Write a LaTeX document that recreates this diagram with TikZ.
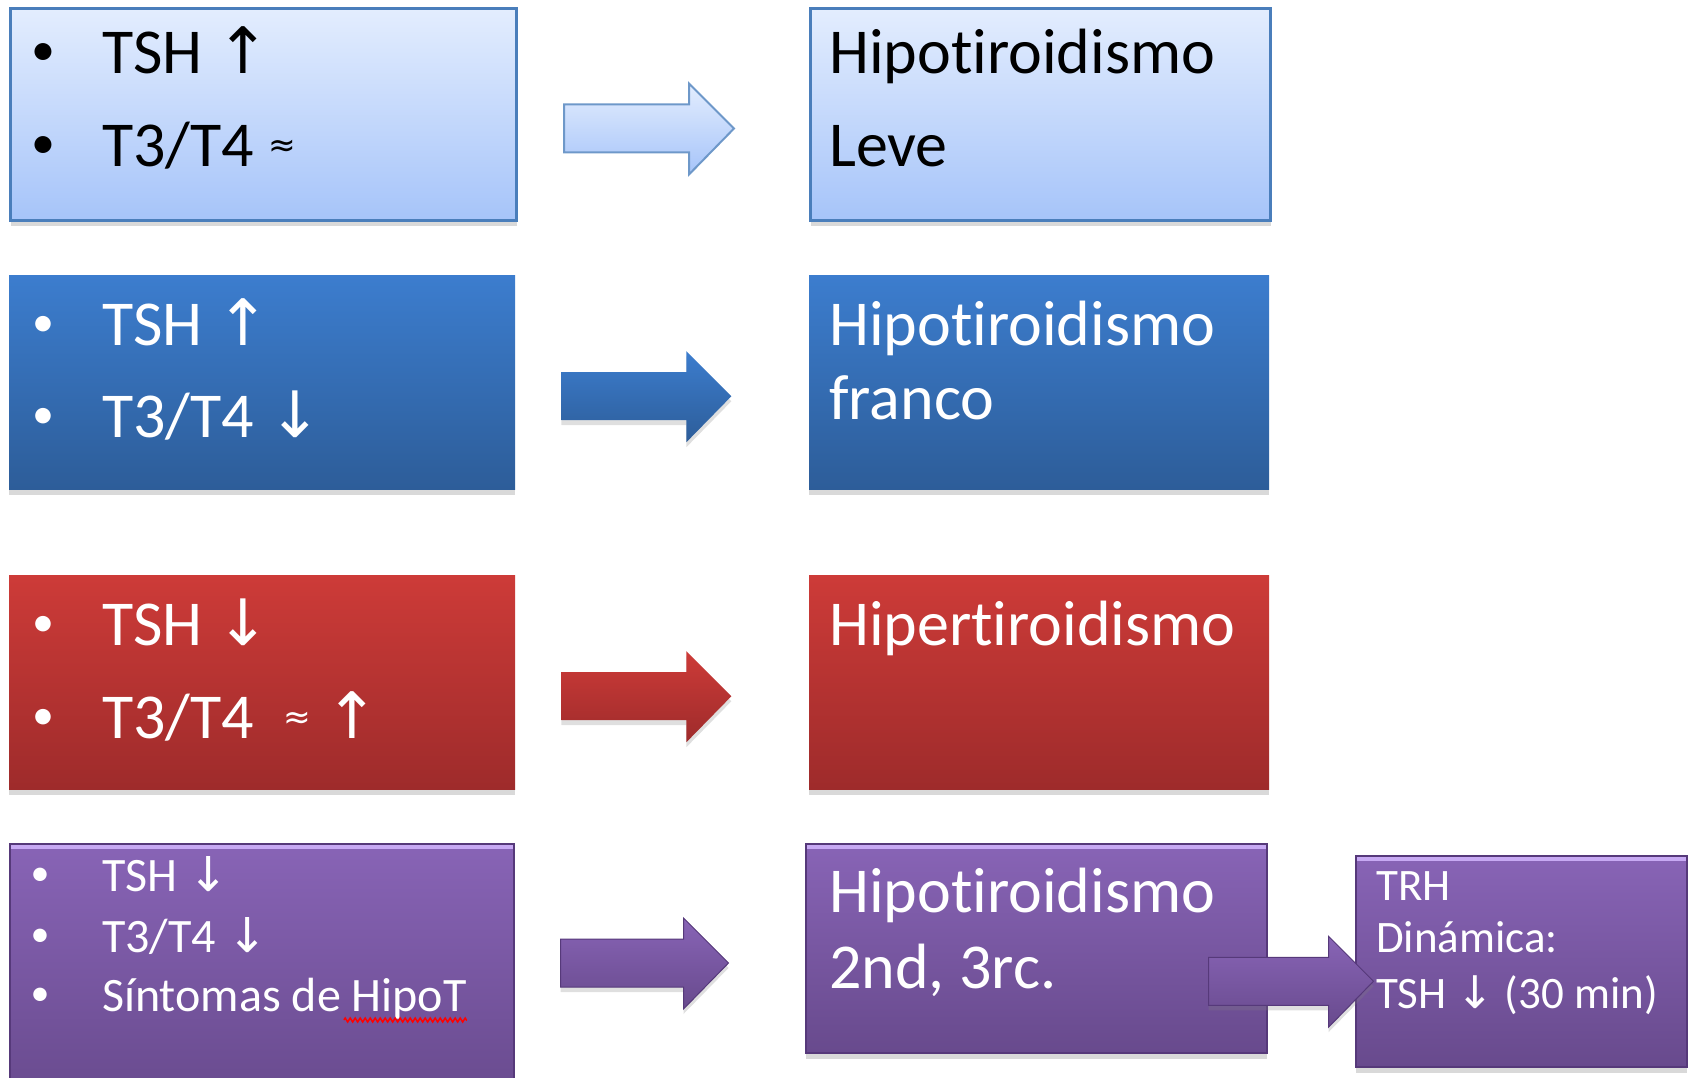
\documentclass[tikz,border=0pt]{standalone}
\usepackage{fontspec}
\setmainfont{Carlito}[Ligatures=NoCommon]
\newfontfamily\symf{DejaVu Sans}
\usetikzlibrary{calc,shadows,decorations.pathmorphing}
\definecolor{ltop}{HTML}{E3EDFE}
\definecolor{lbot}{HTML}{A6C4F9}
\definecolor{lline}{HTML}{4A7EBB}
\definecolor{btop}{HTML}{3C7DCE}
\definecolor{bbot}{HTML}{2D5D99}
\definecolor{rtop}{HTML}{CD3B38}
\definecolor{rbot}{HTML}{9E2B2B}
\definecolor{ptop}{HTML}{8864B6}
\definecolor{pbot}{HTML}{684A8D}
\definecolor{pline}{HTML}{56397A}
\definecolor{plite}{HTML}{C7A9F3}
\newcommand{\arrup}{{\symf ↑}}
\newcommand{\arrdn}{{\symf ↓}}
\newcommand{\apx}{\raisebox{10pt}{\symf\fontsize{33}{36}\selectfont ≈}}
\newcommand{\bul}[2]{\raisebox{#1}{\fontsize{#2}{40}\selectfont\textbullet}}
% block arrow: start (top left of shaft), shaft length, style
\newcommand{\barrow}[3]{\path[#3] #1 -- ++(#2,0) -- ++(0,-21) -- ++(45,45) -- ++(-45,46) -- ++(0,-22) -- ++(-#2,0) -- cycle;}

\begin{document}
\begin{tikzpicture}[x=1pt,y=-1pt,
  bx/.style={anchor=north west,inner sep=0pt,drop shadow={shadow xshift=0pt,shadow yshift=-6pt,opacity=.3}},
  lbx/.style={bx,top color=ltop,bottom color=lbot,draw=lline,line width=3pt},
  bbx/.style={bx,top color=btop,bottom color=bbot},
  rbx/.style={bx,top color=rtop,bottom color=rbot},
  pbx/.style={bx,top color=ptop,bottom color=pbot,draw=pline,line width=1.5pt},
  lar/.style={top color=ltop,bottom color=lbot,draw=lline!80,line width=2pt},
  bar/.style={top color=btop,bottom color=bbot,drop shadow={shadow xshift=0pt,shadow yshift=-5pt,opacity=.25}},
  rar/.style={top color=rtop,bottom color=rbot,drop shadow={shadow xshift=0pt,shadow yshift=-5pt,opacity=.25}},
  par/.style={top color=ptop,bottom color=pbot,draw=pline,line width=1pt,drop shadow={shadow xshift=0pt,shadow yshift=-5pt,opacity=.25}},
  hl/.style={plite,line width=4pt},
  big/.style={anchor=base west,inner sep=0pt,font=\fontsize{64}{70}\selectfont},
  med/.style={anchor=base west,inner sep=0pt,font=\fontsize{48}{54}\selectfont},
  sm/.style={anchor=base west,inner sep=0pt,font=\fontsize{45}{50}\selectfont},
  wavy/.style={red,line width=1.5pt,decorate,decoration={zigzag,segment length=5pt,amplitude=2pt}}]
\useasboundingbox (0,0) rectangle (1692,1078);
% boxes
\node[lbx,minimum width=506pt,minimum height=212pt](l1) at (9,7) {};
\node[lbx,minimum width=460pt,minimum height=212pt](r1) at (809,7) {};
\node[bbx,minimum width=506pt,minimum height=214pt](l2) at (9,275) {};
\node[bbx,minimum width=460pt,minimum height=214pt](r2) at (809,275) {};
\node[rbx,minimum width=506pt,minimum height=214pt](l3) at (9,575) {};
\node[rbx,minimum width=460pt,minimum height=214pt](r3) at (809,575) {};
\node[pbx,minimum width=504pt,minimum height=260pt](l4) at (9,843) {};
\node[pbx,minimum width=461pt,minimum height=209pt](r4) at (805,843) {};
\node[pbx,minimum width=331pt,minimum height=211pt](s4) at (1355,855) {};
\draw[hl] ($(l4.north west)+(2,4)$) -- ($(l4.north east)+(-2,4)$);
\draw[hl] ($(r4.north west)+(2,4)$) -- ($(r4.north east)+(-2,4)$);
\draw[hl] ($(s4.north west)+(2,4)$) -- ($(s4.north east)+(-2,4)$);
% texts row 1
\node[big,anchor=base](l1p) at (43,74) {\bul{8pt}{48}};
\node[big,anchor=base](l1q) at (43,167) {\bul{8pt}{48}};
\node[big](l1a) at (102,74) {TSH \arrup};
\node[big](l1b) at (102,167) {T3/T4 \apx};
\node[big](r1a) at (829,74) {Hipotiroidismo};
\node[big](r1b) at (829,167) {Leve};
% row 2
\begin{scope}[text=white]
\node[big,anchor=base](l2p) at (43,345) {\bul{9pt}{44}};
\node[big,anchor=base](l2q) at (43,437) {\bul{9pt}{44}};
\node[big](l2a) at (102,345) {TSH \arrup};
\node[big](l2b) at (102,437) {T3/T4 \arrdn};
\node[big](r2a) at (829,345) {Hipotiroidismo};
\node[big](r2b) at (829,419) {franco};
% row 3
\node[big,anchor=base](l3p) at (43,645) {\bul{9pt}{44}};
\node[big,anchor=base](l3q) at (43,738) {\bul{9pt}{44}};
\node[big](l3a) at (102,645) {TSH \arrdn};
\node[big](l3b) at (102,738) {T3/T4\ \ \apx\ \arrup};
\node[big](r3a) at (829,645) {Hipertiroidismo};
% row 4
\node[med,anchor=base](l4p) at (40,891) {\bul{6pt}{38}};
\node[med,anchor=base](l4q) at (40,952) {\bul{6pt}{38}};
\node[med,anchor=base](l4r) at (40,1011) {\bul{6pt}{38}};
\node[med](l4a) at (102,891) {TSH \arrdn};
\node[med](l4b) at (102,952) {T3/T4 \arrdn};
\node[med](l4c) at (102,1011) {Síntomas de HipoT};
\node[big](r4a) at (829,912) {Hipotiroidismo};
\node[big](r4b) at (829,988) {2nd, 3rc.};
\node[sm](s4a) at (1376,900) {TRH};
\node[sm](s4b) at (1376,952) {Dinámica:};
\node[sm](s4c) at (1376,1008) {TSH \arrdn\ (30 min)};
\end{scope}
\draw[wavy] ($(l4c.base east)+(-123,9)$) -- ($(l4c.base east)+(0,9)$);
% arrows
\barrow{($(l1.east)+(46,-10)$)}{125}{lar}
\barrow{($(l2.east)+(46,-10)$)}{125}{bar}
\barrow{($(l3.east)+(46,-10)$)}{125}{rar}
\barrow{($(l4.north east)+(46,96)$)}{123}{par}
\barrow{($(r4.east)+(-59,9)$)}{120}{par}
\end{tikzpicture}
\end{document}
